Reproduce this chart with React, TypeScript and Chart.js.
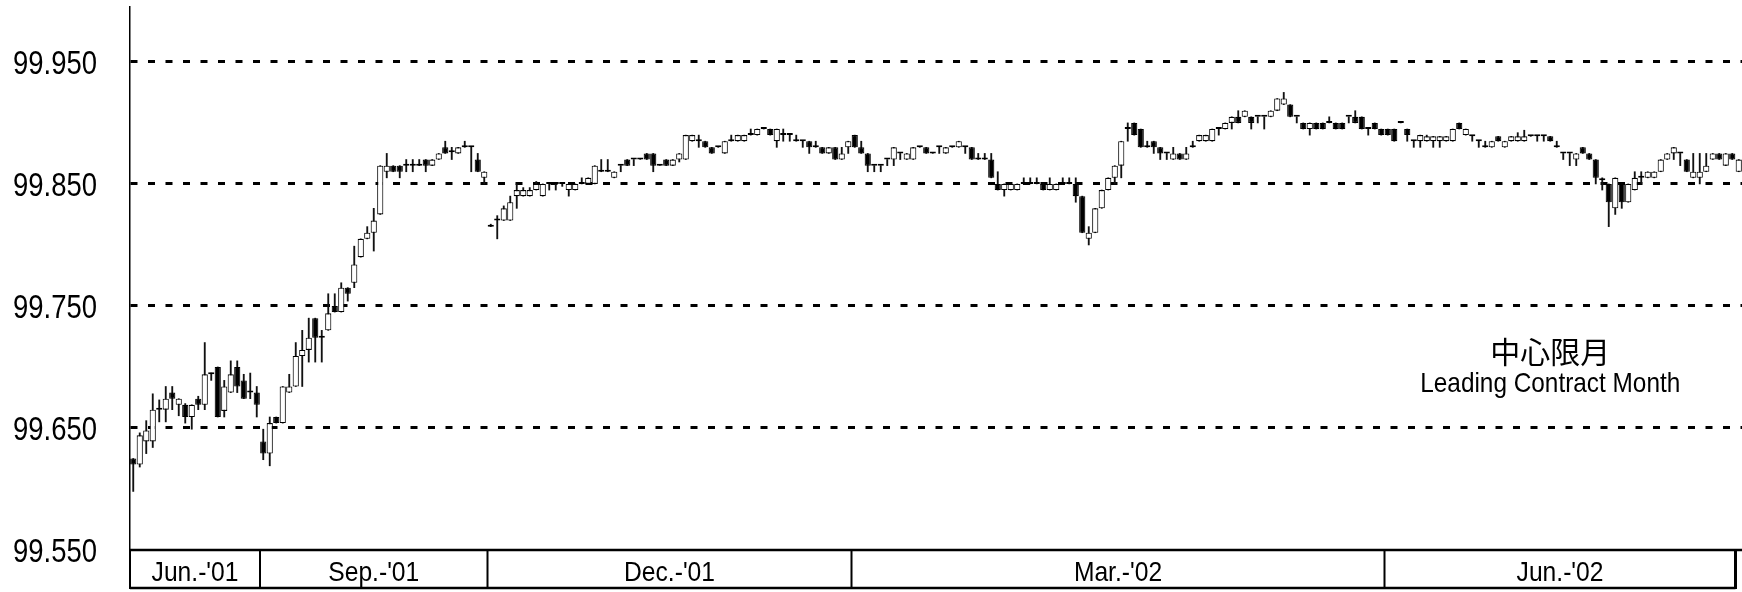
import React, { useEffect, useRef } from 'react';
import { Chart, registerables } from 'chart.js';

Chart.register(...registerables);

const opens = [
  99.625, 99.620, 99.639, 99.639, 99.665, 99.665, 99.679, 99.669, 99.669, 99.659,
  99.674, 99.669, 99.694, 99.700, 99.664, 99.679, 99.700, 99.689, 99.679, 99.679,
  99.639, 99.629, 99.659, 99.654, 99.679, 99.684, 99.709, 99.714, 99.740, 99.724,
  99.730, 99.750, 99.745, 99.765, 99.769, 99.790, 99.805, 99.810, 99.825, 99.860,
  99.865, 99.865, 99.865, 99.865, 99.865, 99.870, 99.865, 99.870, 99.880, 99.876,
  99.875, 99.880, 99.880, 99.870, 99.855, 99.815, 99.820, 99.820, 99.820, 99.840,
  99.840, 99.840, 99.845, 99.840, 99.850, 99.850, 99.850, 99.845, 99.845, 99.850,
  99.850, 99.850, 99.860, 99.860, 99.855, 99.865, 99.870, 99.870, 99.870, 99.875,
  99.875, 99.865, 99.870, 99.865, 99.870, 99.870, 99.885, 99.885, 99.885, 99.880,
  99.880, 99.875, 99.885, 99.885, 99.885, 99.890, 99.890, 99.895, 99.895, 99.885,
  99.890, 99.890, 99.885, 99.885, 99.885, 99.880, 99.880, 99.875, 99.880, 99.870,
  99.880, 99.890, 99.880, 99.875, 99.865, 99.865, 99.870, 99.870, 99.875, 99.870,
  99.870, 99.880, 99.880, 99.875, 99.880, 99.875, 99.880, 99.880, 99.880, 99.880,
  99.870, 99.870, 99.870, 99.850, 99.845, 99.845, 99.845, 99.850, 99.850, 99.850,
  99.850, 99.845, 99.845, 99.850, 99.850, 99.850, 99.840, 99.805, 99.810, 99.830,
  99.845, 99.855, 99.865, 99.895, 99.900, 99.895, 99.880, 99.885, 99.880, 99.875,
  99.870, 99.875, 99.870, 99.880, 99.885, 99.885, 99.885, 99.895, 99.895, 99.900,
  99.905, 99.905, 99.905, 99.905, 99.905, 99.905, 99.910, 99.915, 99.915, 99.905,
  99.900, 99.895, 99.900, 99.900, 99.900, 99.900, 99.900, 99.905, 99.905, 99.905,
  99.895, 99.900, 99.895, 99.895, 99.895, 99.900, 99.895, 99.885, 99.885, 99.885,
  99.885, 99.885, 99.885, 99.885, 99.900, 99.890, 99.889, 99.885, 99.880, 99.880,
  99.889, 99.880, 99.885, 99.885, 99.885, 99.889, 99.889, 99.889, 99.889, 99.880,
  99.875, 99.875, 99.870, 99.880, 99.875, 99.870, 99.853, 99.850, 99.830, 99.850,
  99.835, 99.845, 99.855, 99.855, 99.855, 99.860, 99.870, 99.875, 99.875, 99.870,
  99.855, 99.855, 99.860, 99.870, 99.875, 99.865, 99.875, 99.860,
];

const highs = [
  99.625, 99.646, 99.656, 99.678, 99.673, 99.684, 99.684, 99.674, 99.670, 99.669,
  99.676, 99.720, 99.695, 99.700, 99.689, 99.705, 99.705, 99.694, 99.695, 99.684,
  99.649, 99.659, 99.659, 99.684, 99.694, 99.720, 99.730, 99.740, 99.740, 99.730,
  99.760, 99.760, 99.769, 99.765, 99.799, 99.805, 99.815, 99.830, 99.865, 99.875,
  99.865, 99.865, 99.870, 99.870, 99.870, 99.870, 99.870, 99.875, 99.885, 99.880,
  99.880, 99.885, 99.880, 99.875, 99.860, 99.817, 99.824, 99.832, 99.840, 99.850,
  99.847, 99.847, 99.852, 99.850, 99.850, 99.850, 99.850, 99.850, 99.850, 99.855,
  99.855, 99.865, 99.870, 99.870, 99.860, 99.865, 99.870, 99.870, 99.870, 99.875,
  99.875, 99.865, 99.870, 99.870, 99.875, 99.890, 99.890, 99.890, 99.885, 99.880,
  99.880, 99.885, 99.890, 99.890, 99.890, 99.895, 99.895, 99.895, 99.895, 99.895,
  99.895, 99.890, 99.890, 99.885, 99.885, 99.885, 99.880, 99.880, 99.880, 99.880,
  99.885, 99.890, 99.885, 99.875, 99.865, 99.865, 99.870, 99.880, 99.875, 99.875,
  99.880, 99.880, 99.880, 99.875, 99.880, 99.880, 99.880, 99.885, 99.880, 99.880,
  99.875, 99.875, 99.875, 99.860, 99.850, 99.850, 99.850, 99.855, 99.855, 99.855,
  99.850, 99.855, 99.850, 99.855, 99.855, 99.855, 99.840, 99.815, 99.830, 99.845,
  99.855, 99.865, 99.885, 99.900, 99.900, 99.895, 99.885, 99.885, 99.880, 99.875,
  99.880, 99.875, 99.880, 99.885, 99.890, 99.890, 99.895, 99.895, 99.900, 99.905,
  99.910, 99.910, 99.905, 99.905, 99.905, 99.910, 99.920, 99.925, 99.915, 99.905,
  99.900, 99.900, 99.900, 99.900, 99.905, 99.900, 99.900, 99.905, 99.910, 99.905,
  99.895, 99.900, 99.895, 99.895, 99.895, 99.900, 99.895, 99.885, 99.890, 99.890,
  99.889, 99.889, 99.889, 99.895, 99.900, 99.895, 99.889, 99.885, 99.885, 99.885,
  99.889, 99.885, 99.889, 99.892, 99.894, 99.889, 99.889, 99.889, 99.889, 99.885,
  99.875, 99.875, 99.875, 99.880, 99.875, 99.870, 99.855, 99.850, 99.855, 99.850,
  99.850, 99.860, 99.860, 99.860, 99.860, 99.870, 99.875, 99.880, 99.875, 99.870,
  99.875, 99.875, 99.875, 99.875, 99.875, 99.875, 99.875, 99.870,
];

const lows = [
  99.598, 99.618, 99.629, 99.634, 99.655, 99.655, 99.665, 99.660, 99.654, 99.649,
  99.665, 99.665, 99.689, 99.659, 99.659, 99.679, 99.679, 99.674, 99.674, 99.659,
  99.624, 99.619, 99.654, 99.654, 99.679, 99.684, 99.684, 99.704, 99.704, 99.704,
  99.730, 99.745, 99.745, 99.754, 99.765, 99.790, 99.805, 99.795, 99.825, 99.855,
  99.860, 99.855, 99.860, 99.860, 99.865, 99.860, 99.865, 99.870, 99.875, 99.870,
  99.875, 99.880, 99.860, 99.860, 99.850, 99.815, 99.805, 99.820, 99.820, 99.830,
  99.840, 99.840, 99.845, 99.840, 99.845, 99.845, 99.848, 99.840, 99.845, 99.850,
  99.850, 99.850, 99.860, 99.860, 99.855, 99.860, 99.865, 99.865, 99.870, 99.870,
  99.860, 99.865, 99.865, 99.865, 99.868, 99.870, 99.885, 99.880, 99.880, 99.875,
  99.880, 99.875, 99.885, 99.885, 99.885, 99.890, 99.890, 99.895, 99.890, 99.880,
  99.885, 99.885, 99.885, 99.880, 99.875, 99.880, 99.875, 99.875, 99.870, 99.870,
  99.875, 99.880, 99.875, 99.860, 99.860, 99.860, 99.865, 99.865, 99.870, 99.870,
  99.870, 99.880, 99.875, 99.875, 99.875, 99.875, 99.880, 99.880, 99.875, 99.870,
  99.870, 99.870, 99.855, 99.845, 99.840, 99.845, 99.845, 99.850, 99.850, 99.850,
  99.845, 99.845, 99.845, 99.850, 99.850, 99.835, 99.810, 99.800, 99.810, 99.830,
  99.845, 99.850, 99.855, 99.885, 99.890, 99.880, 99.880, 99.875, 99.870, 99.870,
  99.870, 99.870, 99.870, 99.880, 99.885, 99.885, 99.885, 99.890, 99.895, 99.895,
  99.900, 99.905, 99.895, 99.900, 99.895, 99.905, 99.910, 99.915, 99.905, 99.900,
  99.895, 99.890, 99.895, 99.895, 99.900, 99.895, 99.895, 99.900, 99.900, 99.895,
  99.890, 99.895, 99.890, 99.890, 99.885, 99.900, 99.885, 99.880, 99.880, 99.885,
  99.880, 99.880, 99.885, 99.885, 99.895, 99.890, 99.885, 99.880, 99.880, 99.880,
  99.885, 99.880, 99.885, 99.885, 99.885, 99.889, 99.885, 99.885, 99.885, 99.880,
  99.870, 99.865, 99.865, 99.875, 99.870, 99.850, 99.845, 99.815, 99.825, 99.830,
  99.835, 99.845, 99.850, 99.855, 99.855, 99.860, 99.870, 99.870, 99.865, 99.860,
  99.855, 99.850, 99.860, 99.870, 99.870, 99.865, 99.870, 99.860,
];

const closes = [
  99.620, 99.644, 99.648, 99.665, 99.665, 99.674, 99.674, 99.674, 99.659, 99.669,
  99.669, 99.694, 99.694, 99.659, 99.684, 99.694, 99.684, 99.674, 99.679, 99.669,
  99.629, 99.654, 99.654, 99.684, 99.684, 99.709, 99.714, 99.724, 99.724, 99.724,
  99.744, 99.745, 99.765, 99.760, 99.784, 99.805, 99.810, 99.820, 99.865, 99.865,
  99.860, 99.860, 99.865, 99.865, 99.865, 99.865, 99.870, 99.875, 99.875, 99.876,
  99.880, 99.880, 99.880, 99.860, 99.860, 99.815, 99.820, 99.830, 99.835, 99.845,
  99.845, 99.845, 99.850, 99.850, 99.850, 99.850, 99.850, 99.850, 99.850, 99.850,
  99.855, 99.865, 99.860, 99.860, 99.860, 99.865, 99.865, 99.870, 99.870, 99.870,
  99.865, 99.865, 99.865, 99.870, 99.875, 99.890, 99.890, 99.885, 99.880, 99.875,
  99.880, 99.885, 99.885, 99.890, 99.890, 99.890, 99.895, 99.895, 99.890, 99.895,
  99.890, 99.890, 99.885, 99.885, 99.880, 99.880, 99.875, 99.880, 99.870, 99.875,
  99.885, 99.880, 99.875, 99.865, 99.865, 99.865, 99.870, 99.880, 99.875, 99.875,
  99.880, 99.880, 99.875, 99.875, 99.880, 99.880, 99.880, 99.885, 99.880, 99.870,
  99.870, 99.870, 99.855, 99.845, 99.850, 99.850, 99.850, 99.850, 99.850, 99.850,
  99.845, 99.850, 99.850, 99.850, 99.850, 99.840, 99.810, 99.810, 99.830, 99.845,
  99.855, 99.865, 99.885, 99.895, 99.890, 99.880, 99.880, 99.880, 99.875, 99.875,
  99.875, 99.870, 99.875, 99.880, 99.890, 99.890, 99.895, 99.895, 99.900, 99.905,
  99.900, 99.910, 99.900, 99.905, 99.905, 99.910, 99.920, 99.920, 99.905, 99.905,
  99.895, 99.900, 99.895, 99.895, 99.900, 99.895, 99.895, 99.905, 99.900, 99.895,
  99.895, 99.895, 99.890, 99.890, 99.885, 99.900, 99.890, 99.885, 99.890, 99.889,
  99.889, 99.889, 99.889, 99.895, 99.895, 99.895, 99.889, 99.885, 99.880, 99.885,
  99.885, 99.885, 99.889, 99.889, 99.889, 99.889, 99.889, 99.889, 99.885, 99.880,
  99.875, 99.875, 99.875, 99.875, 99.870, 99.855, 99.853, 99.835, 99.855, 99.835,
  99.850, 99.855, 99.855, 99.860, 99.860, 99.870, 99.875, 99.880, 99.875, 99.860,
  99.860, 99.860, 99.865, 99.875, 99.870, 99.875, 99.870, 99.870,
];

const dayLabels = opens.map((_, i) => `D${i + 1}`);

const yTickValues = [99.55, 99.65, 99.75, 99.85, 99.95];
const yMin = 99.55;
const yMax = 99.995;

const monthNames = ["Jun.-'01", "Sep.-'01", "Dec.-'01", "Mar.-'02", "Jun.-'02"];
const monthStartIdx = [0, 20, 55, 111, 193];
const monthEndIdx = 247;

const noteJa = '中心限月';
const noteEn = 'Leading Contract Month';

const SANS = '"Liberation Sans", Arial, Helvetica, sans-serif';

function drawSqueezed(ctx: CanvasRenderingContext2D, text: string, x: number, y: number,
  font: string, sx: number, align: CanvasTextAlign, baseline: CanvasTextBaseline) {
  ctx.save();
  ctx.font = font;
  ctx.fillStyle = '#000';
  ctx.translate(x, y);
  ctx.scale(sx, 1);
  ctx.textAlign = align;
  ctx.textBaseline = baseline;
  ctx.fillText(text, 0, 0);
  ctx.restore();
}

const yLabelPlugin = {
  id: 'yLabels',
  afterDraw(chart: any) {
    const { ctx, chartArea } = chart;
    const ys = chart.scales.y;
    yTickValues.forEach((v) => {
      const y = ys.getPixelForValue(v);
      drawSqueezed(ctx, v.toFixed(3), chartArea.left - 33, y + 12, `33.5px ${SANS}`, 0.82, 'right', 'alphabetic');
    });
  },
};

const monthBoxPlugin = {
  id: 'monthBox',
  afterDraw(chart: any) {
    const { ctx, chartArea } = chart;
    const xs = chart.scales.x;
    const step = xs.getPixelForValue(1) - xs.getPixelForValue(0);
    const edge = (k: number) => xs.getPixelForValue(k) - step / 2;
    const top = chartArea.bottom;
    const bottom = chartArea.bottom + 38;
    const endX = edge(monthEndIdx);
    ctx.save();
    ctx.strokeStyle = '#000';
    ctx.lineWidth = 2.5;
    ctx.beginPath();
    ctx.moveTo(chartArea.left, top);
    ctx.lineTo(chartArea.right, top);
    ctx.moveTo(chartArea.left, bottom);
    ctx.lineTo(endX, bottom);
    ctx.stroke();
    ctx.lineWidth = 2;
    ctx.beginPath();
    ctx.moveTo(chartArea.left, top);
    ctx.lineTo(chartArea.left, bottom + 1);
    monthStartIdx.slice(1).forEach((k) => {
      const x = edge(k);
      ctx.moveTo(x, top);
      ctx.lineTo(x, bottom);
    });
    ctx.stroke();
    ctx.lineWidth = 3;
    ctx.beginPath();
    ctx.moveTo(endX, top);
    ctx.lineTo(endX, bottom + 1);
    ctx.stroke();
    ctx.restore();
    monthNames.forEach((name, i) => {
      const x0 = i === 0 ? chartArea.left : edge(monthStartIdx[i]);
      const x1 = i + 1 < monthStartIdx.length ? edge(monthStartIdx[i + 1]) : endX;
      drawSqueezed(ctx, name, (x0 + x1) / 2, top + 31, `28px ${SANS}`, 0.88, 'center', 'alphabetic');
    });
  },
};

const notePlugin = {
  id: 'note',
  afterDraw(chart: any) {
    const { ctx } = chart;
    const xs = chart.scales.x;
    const ys = chart.scales.y;
    const cx = xs.getPixelForValue(218);
    ctx.save();
    ctx.fillStyle = '#000';
    ctx.textAlign = 'center';
    ctx.textBaseline = 'middle';
    ctx.font = '30px "Noto Sans CJK JP", "Noto Sans CJK SC", sans-serif';
    ctx.fillText(noteJa, cx, ys.getPixelForValue(99.7123));
    ctx.restore();
    drawSqueezed(ctx, noteEn, cx, ys.getPixelForValue(99.6795), `28px ${SANS}`, 0.87, 'center', 'alphabetic');
  },
};

export default function App() {
  const canvasRef = useRef<HTMLCanvasElement | null>(null);

  useEffect(() => {
    if (!canvasRef.current) return;
    const bodies = opens.map((o, i) => [o, closes[i]]);
    const wicks = lows.map((l, i) => [l, highs[i]]);
    const bodyColors = opens.map((o, i) => (closes[i] >= o ? '#ffffff' : '#000000'));

    const chart = new Chart(canvasRef.current, {
      type: 'bar',
      data: {
        labels: dayLabels,
        datasets: [
          {
            label: 'body',
            data: bodies as any,
            backgroundColor: bodyColors,
            borderColor: '#000',
            borderWidth: 1.1,
            borderSkipped: false,
            barPercentage: 0.95,
            categoryPercentage: 1,
            minBarLength: 2,
            grouped: false,
            order: 0,
          },
          {
            label: 'wick',
            data: wicks as any,
            backgroundColor: '#111',
            borderWidth: 0,
            barThickness: 1.2,
            grouped: false,
            order: 1,
          },
        ],
      },
      options: {
        animation: false,
        responsive: true,
        maintainAspectRatio: false,
        layout: { padding: { top: 7, bottom: 42, left: 0, right: 0 } },
        plugins: {
          legend: { display: false },
          tooltip: { enabled: false },
        },
        scales: {
          x: {
            type: 'category',
            display: false,
            offset: true,
          },
          y: {
            type: 'linear',
            min: yMin,
            max: yMax,
            afterBuildTicks: (scale: any) => {
              scale.ticks = yTickValues.map((v) => ({ value: v }));
            },
            afterFit: (scale: any) => {
              scale.width = 130;
              scale.paddingTop = 0;
              scale.paddingBottom = 0;
            },
            ticks: {
              display: false,
            },
            grid: {
              drawTicks: false,
              lineWidth: 3,
              color: (c: any) => (c.index === 0 ? 'rgba(0,0,0,0)' : '#000'),
            },
            border: {
              display: true,
              color: '#000',
              width: 1.5,
              dash: [7, 10.5],
            },
          },
        },
      },
      plugins: [yLabelPlugin, monthBoxPlugin, notePlugin],
    });
    return () => chart.destroy();
  }, []);

  return (
    <div style={{ position: 'fixed', left: 0, top: 0, width: 1742, height: 592, background: '#fff' }}>
      <canvas ref={canvasRef} />
    </div>
  );
}
